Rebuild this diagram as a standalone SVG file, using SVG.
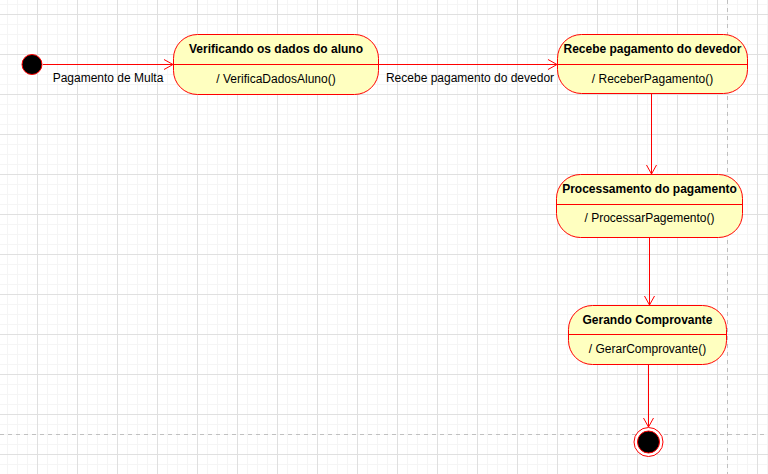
<svg xmlns="http://www.w3.org/2000/svg" width="768" height="474" viewBox="0 0 768 474">
<defs>
<pattern id="minor" x="7" y="4" width="10" height="10" patternUnits="userSpaceOnUse">
<path d="M0.5 0V10M0 0.5H10" stroke="#f5f5f5" stroke-width="1" fill="none"/>
</pattern>
<pattern id="major" x="37" y="14" width="40" height="40" patternUnits="userSpaceOnUse">
<path d="M0.5 0V40M0 0.5H40" stroke="#e0e0e0" stroke-width="1" fill="none"/>
</pattern>
<marker id="open" viewBox="0 0 12 12" refX="10" refY="6" markerWidth="12" markerHeight="12" markerUnits="userSpaceOnUse" orient="auto">
<path d="M1 1L10 6L1 11" fill="none" stroke="#ff0000" stroke-width="1"/>
</marker>
</defs>
<style>
.st{fill:#ffffc0;stroke:#ff0000;stroke-width:1}
.dv{stroke:#ff0000;stroke-width:1}
.t{font-family:"Liberation Sans",Arial,sans-serif;font-size:12px;fill:#000;text-anchor:middle}
.b{font-weight:bold}
.e{stroke:#ff0000;stroke-width:1;fill:none;marker-end:url(#open)}
.pg{stroke:#c0c0c0;stroke-width:1;stroke-dasharray:4 4;fill:none}
</style>
<rect width="768" height="474" fill="#ffffff"/>
<rect width="768" height="474" fill="url(#minor)"/>
<rect width="768" height="474" fill="url(#major)"/>
<path class="pg" d="M727.5 0V474M0 434.5H768"/>

<g id="connectors">
<path class="e" d="M43 64.5H173"/>
<path class="e" d="M379 64.5H557"/>
<path class="e" d="M651.5 94V174"/>
<path class="e" d="M649.5 238V305"/>
<path class="e" d="M648.5 364V427"/>
<text class="t" x="108" y="82">Pagamento de Multa</text>
<text class="t" x="470" y="82">Recebe pagamento do devedor</text>
</g>

<g id="start">
<circle cx="32" cy="64.5" r="10" fill="#000" stroke="#ff0000" stroke-width="1"/>
</g>

<g id="n1">
<rect class="st" x="173.5" y="34.5" width="205" height="60" rx="24"/>
<path class="dv" d="M173.5 64.5H378.5"/>
<text class="t b" x="276" y="53">Verificando os dados do aluno</text>
<text class="t" x="276" y="83">/ VerificaDadosAluno()</text>
</g>

<g id="n2">
<rect class="st" x="557.5" y="34.5" width="190" height="59" rx="24"/>
<path class="dv" d="M557.5 64.5H747.5"/>
<text class="t b" x="652.5" y="53">Recebe pagamento do devedor</text>
<text class="t" x="652.5" y="83">/ ReceberPagamento()</text>
</g>

<g id="n3">
<rect class="st" x="556.5" y="174.5" width="186" height="63" rx="24"/>
<path class="dv" d="M556.5 204.5H742.5"/>
<text class="t b" x="649.5" y="193">Processamento do pagamento</text>
<text class="t" x="649.5" y="222">/ ProcessarPagemento()</text>
</g>

<g id="n4">
<rect class="st" x="568.5" y="305.5" width="158" height="59" rx="24"/>
<path class="dv" d="M568.5 334.5H726.5"/>
<text class="t b" x="647.5" y="324">Gerando Comprovante</text>
<text class="t" x="647.5" y="353">/ GerarComprovante()</text>
</g>

<g id="end">
<circle cx="648.5" cy="442" r="14.5" fill="#ffffff" stroke="#ff0000" stroke-width="1"/>
<circle cx="648.5" cy="442" r="11" fill="#000" stroke="#ff0000" stroke-width="1"/>
</g>
</svg>
